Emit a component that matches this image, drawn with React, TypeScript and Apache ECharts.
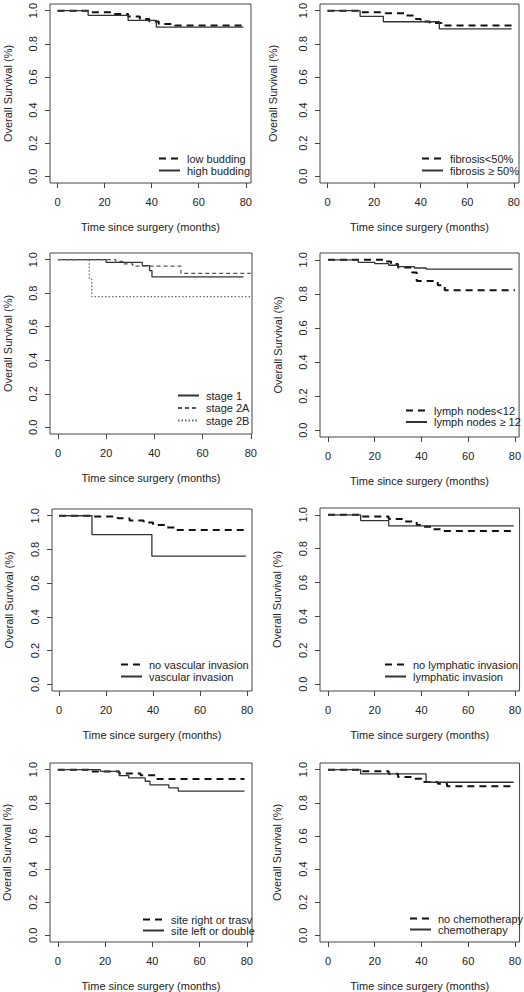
import React, { useEffect, useRef } from "react";
import * as echarts from "echarts";

const xTicks = [0, 20, 40, 60, 80];
const yTicks = [0, 0.2, 0.4, 0.6, 0.8, 1.0];
const xTitle = "Time since surgery (months)";
const yTitle = "Overall Survival (%)";

// Panel 1: budding
const lowBudding = [[0, 1], [13, 0.99], [24, 0.98], [30, 0.965], [35, 0.95], [39, 0.935], [43, 0.92], [50, 0.91], [79, 0.91]];
const highBudding = [[0, 1], [13, 0.972], [30, 0.941], [42, 0.9], [79, 0.9]];
// Panel 2: fibrosis
const fibLow = [[0, 1], [14, 0.99], [25, 0.985], [33, 0.97], [37, 0.95], [40, 0.935], [44, 0.925], [49, 0.91], [79, 0.91]];
const fibHigh = [[0, 1], [14, 0.966], [24, 0.933], [48, 0.89], [79, 0.89]];
// Panel 3: stage
const stage1 = [[0, 1], [20, 0.984], [35, 0.965], [38, 0.935], [39, 0.898], [77, 0.898]];
const stage2A = [[0, 1], [24, 0.99], [27, 0.975], [31, 0.962], [51, 0.918], [80, 0.918]];
const stage2B = [[0, 1], [13, 0.884], [14, 0.78], [80, 0.78]];
// Panel 4: lymph nodes
const nodesLow = [[0, 1], [24, 0.99], [27, 0.975], [30, 0.955], [36, 0.925], [38, 0.875], [47, 0.85], [50, 0.822], [80, 0.822]];
const nodesHigh = [[0, 1], [13, 0.985], [20, 0.978], [26, 0.968], [30, 0.96], [37, 0.952], [42, 0.945], [79, 0.945]];
// Panel 5: vascular invasion
const noVascular = [[0, 1], [14, 0.995], [25, 0.985], [30, 0.972], [36, 0.96], [40, 0.945], [45, 0.93], [50, 0.915], [79, 0.915]];
const vascular = [[0, 1], [14, 0.888], [39.5, 0.76], [79.5, 0.76]];
// Panel 6: lymphatic invasion
const noLymphatic = [[0, 1], [14, 0.99], [26, 0.975], [33, 0.96], [38, 0.94], [41, 0.93], [45, 0.915], [49, 0.905], [79.5, 0.905]];
const lymphatic = [[0, 1], [14, 0.966], [26, 0.935], [79.5, 0.935]];
// Panel 7: site
const siteRight = [[0, 1], [13, 0.988], [26, 0.976], [35, 0.966], [42, 0.944], [79, 0.944]];
const siteLeft = [[0, 1], [18, 0.99], [26, 0.964], [30, 0.95], [37, 0.93], [39, 0.908], [47, 0.89], [51, 0.87], [79, 0.87]];
// Panel 8: chemotherapy
const noChemo = [[0, 1], [14, 0.99], [26, 0.975], [30, 0.955], [37, 0.945], [40, 0.925], [47, 0.915], [51, 0.9], [79.5, 0.9]];
const chemo = [[0, 1], [14, 0.974], [42, 0.924], [79.5, 0.924]];

const panels = [
  [{ name: "low budding", data: lowBudding, s: "dash" }, { name: "high budding", data: highBudding, s: "solid" }],
  [{ name: "fibrosis<50%", data: fibLow, s: "dash" }, { name: "fibrosis ≥ 50%", data: fibHigh, s: "solid" }],
  [{ name: "stage 1", data: stage1, s: "solid" }, { name: "stage 2A", data: stage2A, s: "thinDash" }, { name: "stage 2B", data: stage2B, s: "dot" }],
  [{ name: "lymph nodes<12", data: nodesLow, s: "dash" }, { name: "lymph nodes ≥ 12", data: nodesHigh, s: "solid" }],
  [{ name: "no vascular invasion", data: noVascular, s: "dash" }, { name: "vascular invasion", data: vascular, s: "solid" }],
  [{ name: "no lymphatic invasion", data: noLymphatic, s: "dash" }, { name: "lymphatic invasion", data: lymphatic, s: "solid" }],
  [{ name: "site right or trasv", data: siteRight, s: "dash" }, { name: "site left or double", data: siteLeft, s: "solid" }],
  [{ name: "no chemotherapy", data: noChemo, s: "dash" }, { name: "chemotherapy", data: chemo, s: "solid" }],
];

const layout = [
  { left: 50, top: 1, width: 201, height: 182, xMin: -3.2, xMax: 82.2, yGap: 37, lgLeft: 158, lgTop: 153, lgH: 12, lgGap: 1 },
  { left: 320, top: 1, width: 199, height: 182, xMin: -3.2, xMax: 82.2, yGap: 42, lgLeft: 421, lgTop: 153, lgH: 12, lgGap: 1 },
  { left: 50, top: 253, width: 202, height: 181, xMin: -3.3, xMax: 80.5, yGap: 37, lgLeft: 177, lgTop: 390, lgH: 12, lgGap: 1.5 },
  { left: 320, top: 253, width: 200, height: 184, xMin: -3.4, xMax: 81.8, yGap: 37, lgLeft: 405, lgTop: 405, lgH: 12, lgGap: 0.5 },
  { left: 52, top: 509, width: 200, height: 182, xMin: -3.0, xMax: 82.1, yGap: 38, lgLeft: 120, lgTop: 659, lgH: 12, lgGap: 1 },
  { left: 320, top: 508, width: 201, height: 183, xMin: -3.4, xMax: 82.0, yGap: 38, lgLeft: 384, lgTop: 659, lgH: 12, lgGap: 1 },
  { left: 50, top: 763, width: 202, height: 179, xMin: -3.3, xMax: 82.2, yGap: 38, lgLeft: 142, lgTop: 914, lgH: 11, lgGap: 0 },
  { left: 320, top: 763, width: 201, height: 179, xMin: -3.4, xMax: 82.0, yGap: 38, lgLeft: 409, lgTop: 913, lgH: 11, lgGap: 0 },
];

const FONT = "'Liberation Sans', Arial, Helvetica, sans-serif";
const TXT = "#222";

const styles: Record<string, any> = {
  dash: { color: "#111", width: 2, type: [7, 5] },
  solid: { color: "#333", width: 1.3, type: "solid" },
  thinDash: { color: "#555", width: 1.2, type: [4, 3] },
  dot: { color: "#666", width: 1.2, type: [1.5, 2] },
};

function buildOption() {
  const grid: any[] = [];
  const xAxis: any[] = [];
  const yAxis: any[] = [];
  const series: any[] = [];
  const legend: any[] = [];
  layout.forEach((L, i) => {
    grid.push({
      left: L.left, top: L.top, width: L.width, height: L.height,
      show: true, borderColor: "#444", borderWidth: 1, backgroundColor: "transparent",
    });
    xAxis.push({
      type: "value", gridIndex: i, min: L.xMin, max: L.xMax,
      axisLine: { show: false, onZero: false },
      axisTick: { show: true, length: 5, customValues: xTicks, lineStyle: { color: "#444" } },
      axisLabel: { customValues: xTicks, margin: 13, fontSize: 11, color: TXT, fontFamily: FONT },
      splitLine: { show: false },
      name: xTitle, nameLocation: "middle", nameGap: 38,
      nameTextStyle: { fontSize: 11, color: TXT, fontFamily: FONT },
    });
    yAxis.push({
      type: "value", gridIndex: i, min: -0.04, max: 1.04,
      axisLine: { show: false, onZero: false },
      axisTick: { show: true, length: 5, customValues: yTicks, lineStyle: { color: "#444" } },
      axisLabel: {
        customValues: yTicks, rotate: 90, margin: 12, fontSize: 11, color: TXT, fontFamily: FONT,
        formatter: (v: number) => v.toFixed(1),
      },
      splitLine: { show: false },
      name: yTitle, nameLocation: "middle", nameGap: L.yGap, nameRotate: 90,
      nameTextStyle: { fontSize: 11, color: TXT, fontFamily: FONT },
    });
    panels[i].forEach((p) => {
      const st = styles[p.s];
      series.push({
        type: "line", name: p.name, xAxisIndex: i, yAxisIndex: i,
        step: "end", symbol: "none", data: p.data,
        lineStyle: { color: st.color, width: st.width, type: st.type },
        itemStyle: { color: st.color },
      });
    });
    legend.push({
      orient: "vertical", left: L.lgLeft, top: L.lgTop,
      itemWidth: 21, itemHeight: L.lgH, itemGap: L.lgGap,
      selectedMode: false, padding: 0,
      itemStyle: { opacity: 0 },
      lineStyle: { opacity: 1 },
      data: panels[i].map((p) => p.name),
      textStyle: { fontSize: 11, color: TXT, fontFamily: FONT, padding: [0, 0, 0, 2] },
    });
  });
  return { animation: false, backgroundColor: "#fff", grid, xAxis, yAxis, series, legend };
}

export default function App() {
  const ref = useRef<HTMLDivElement>(null);
  useEffect(() => {
    if (!ref.current) return;
    const chart = echarts.init(ref.current, undefined, { renderer: "svg" });
    chart.setOption(buildOption() as any);
    return () => chart.dispose();
  }, []);
  return (
    <div
      ref={ref}
      style={{ position: "fixed", left: 0, top: 0, width: 524, height: 992, background: "#fff" }}
    />
  );
}
